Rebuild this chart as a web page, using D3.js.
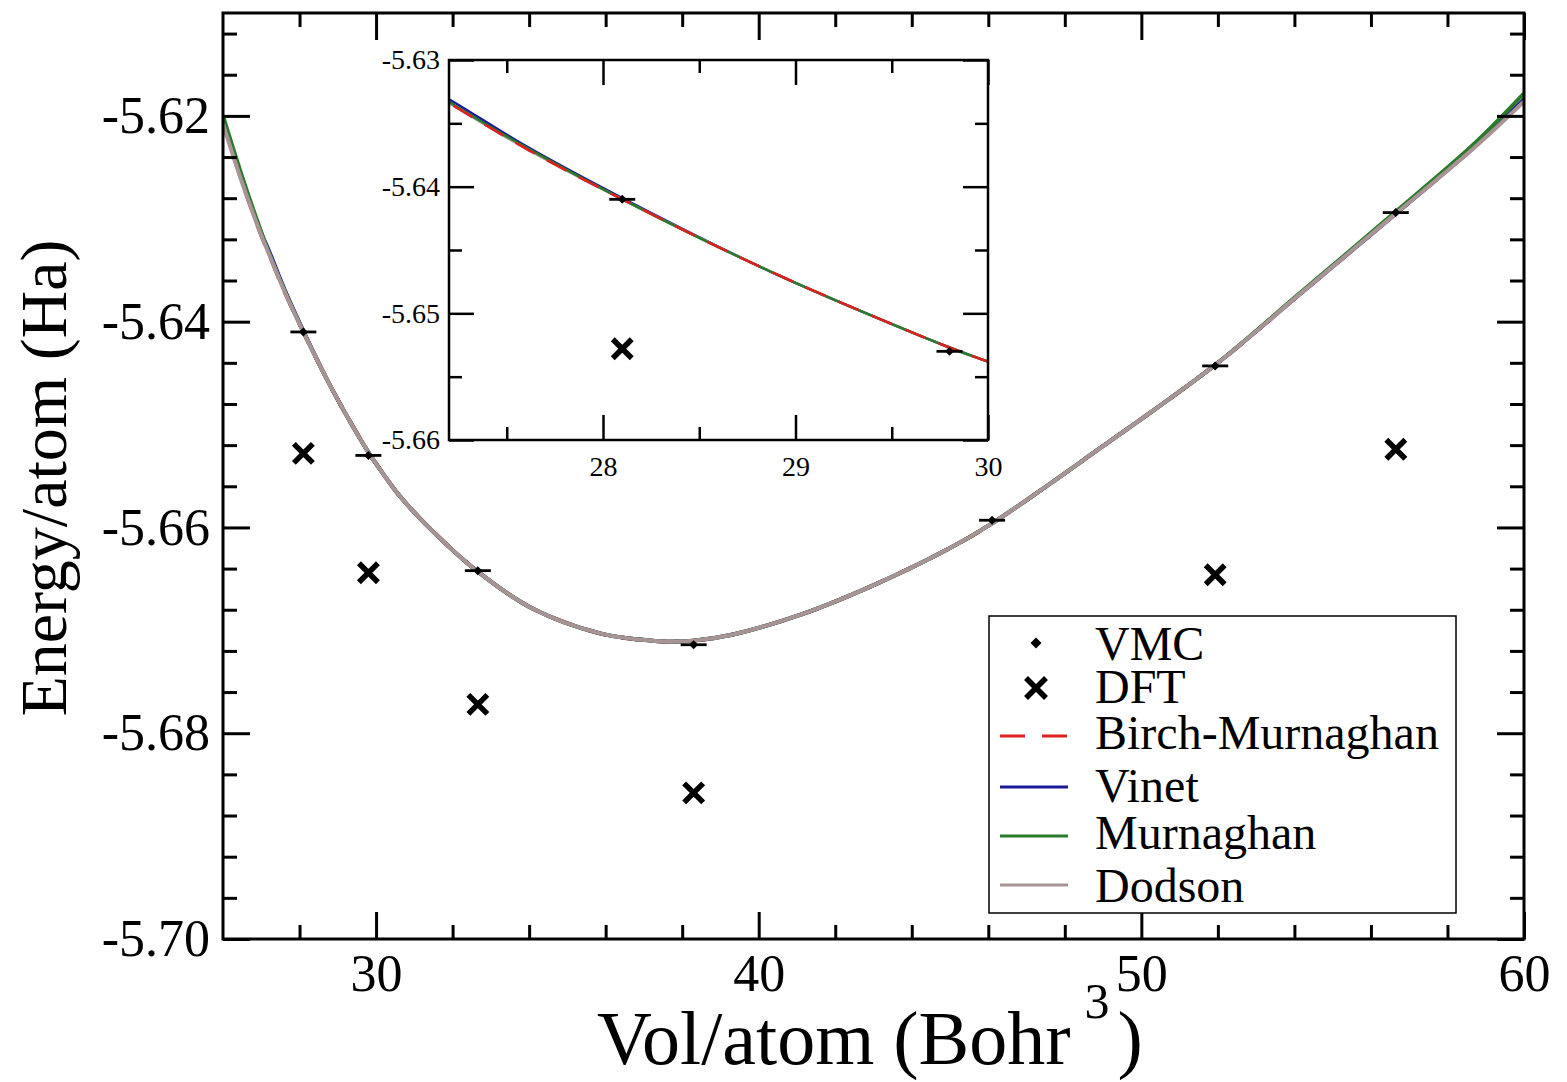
<!DOCTYPE html>
<html>
<head>
<meta charset="utf-8">
<script src="https://cdn.jsdelivr.net/npm/d3@7"></script>
<style>
  html, body { margin: 0; padding: 0; background: #fff; }
  svg { display: block; }
  text { font-family: 'Liberation Serif', 'Times New Roman', serif; fill: #000; }
</style>
</head>
<body>
<svg id="chart" width="1567" height="1082"></svg>
<script>
// ---------------- DATA ----------------
const vmcVol    = [28.1, 29.8, 32.66, 38.3, 46.1, 51.93, 56.65];
const vmcEnergy = [-5.6410, -5.6530, -5.6642, -5.6714, -5.6593, -5.6443, -5.6294];

const dftVol    = [28.1, 29.8, 32.66, 38.3, 51.93, 56.65];
const dftEnergy = [-5.6528, -5.6644, -5.6772, -5.6858, -5.6646, -5.6524];

const fitVol = [26, 26.5, 27, 27.2, 27.6, 28.1, 28.87, 29.8, 30, 30.63, 31.49, 32.66, 34.1, 35.85,
                36.9, 37.6, 38.3, 39.33, 41.08, 42.83, 45, 46.1, 48.92, 51.93, 54.15, 56.65, 58.67, 60];
const birchMurnaghan = [-5.6206, -5.6264, -5.6316, -5.6334, -5.6370, -5.6410, -5.6467, -5.6527, -5.6538, -5.6570,
                -5.6604, -5.6643, -5.6679, -5.6703, -5.6709, -5.6711, -5.6710, -5.6704, -5.6685, -5.6659,
                -5.6620, -5.6596, -5.6523, -5.6442, -5.6373, -5.6295, -5.6231, -5.6183];
const vinet = [-5.6204, -5.6262, -5.6314, -5.6331, -5.6368, -5.6409, -5.6467, -5.6527, -5.6538, -5.6570,
                -5.6604, -5.6643, -5.6679, -5.6703, -5.6709, -5.6711, -5.6710, -5.6704, -5.6685, -5.6659,
                -5.6620, -5.6596, -5.6523, -5.6442, -5.6373, -5.6295, -5.6231, -5.6184];
const murnaghan = [-5.6200, -5.6259, -5.6313, -5.6333, -5.6369, -5.6410, -5.6467, -5.6527, -5.6538, -5.6570,
                -5.6604, -5.6643, -5.6679, -5.6703, -5.6709, -5.6711, -5.6710, -5.6704, -5.6685, -5.6659,
                -5.6620, -5.6596, -5.6523, -5.6442, -5.6372, -5.6293, -5.6228, -5.6178];
const dodson = [-5.6208, -5.6265, -5.6316, -5.6334, -5.6370, -5.6410, -5.6467, -5.6527, -5.6538, -5.6570,
                -5.6604, -5.6643, -5.6679, -5.6703, -5.6709, -5.6711, -5.6710, -5.6704, -5.6685, -5.6659,
                -5.6620, -5.6596, -5.6523, -5.6442, -5.6373, -5.6295, -5.6232, -5.6186];

const fitNames  = ["Birch-Murnaghan", "Vinet", "Murnaghan", "Dodson"];
const fitSeries = [birchMurnaghan, vinet, murnaghan, dodson];
const fitColors = ["#e0201c", "#1a1a9a", "#2a7a2a", "#a89494"];
const fitDash   = ["22,14", null, null, null];

const mainXTicks = [30, 40, 50, 60];
const mainYTicks = [-5.70, -5.68, -5.66, -5.64, -5.62];
const insetXTicks = [28, 29, 30];
const insetYTicks = [-5.66, -5.65, -5.64, -5.63];

// ---------------- SETUP ----------------
const svg = d3.select("#chart");
svg.append("rect").attr("width", 1567).attr("height", 1082).attr("fill", "#fff");

const M = {l: 223, r: 1524, t: 13, b: 939};
const x = d3.scaleLinear().domain([26, 60]).range([M.l, M.r]);
const y = d3.scaleLinear().domain([-5.70, -5.61]).range([M.b, M.t]);

const I = {l: 449, r: 988, t: 60, b: 440};
const xi = d3.scaleLinear().domain([27.2, 30]).range([I.l, I.r]);
const yi = d3.scaleLinear().domain([-5.66, -5.63]).range([I.b, I.t]);

const defs = svg.append("defs");
defs.append("clipPath").attr("id", "clipMain").append("rect")
  .attr("x", M.l).attr("y", M.t).attr("width", M.r - M.l).attr("height", M.b - M.t);
defs.append("clipPath").attr("id", "clipInset").append("rect")
  .attr("x", I.l).attr("y", I.t).attr("width", I.r - I.l).attr("height", I.b - I.t);

const fmt2 = d => d.toFixed(2);

function drawAxes(g, xs, ys, box, opt) {
  const xMinor = opt.xMinor.filter(v => !opt.xTicks.includes(v));
  const yMinor = opt.yMinor.filter(v => !opt.yTicks.some(t => Math.abs(t - v) < 1e-9));
  const style = sel => {
    sel.select(".domain").remove();
    sel.selectAll("line").attr("stroke", "#000").attr("stroke-width", opt.sw);
    sel.selectAll("text").style("font-size", opt.fs + "px").attr("fill", "#000")
       .style("font-family", "'Liberation Serif','Times New Roman',serif");
  };
  g.append("g").attr("transform", `translate(0,${box.b})`)
    .call(d3.axisBottom(xs).tickValues(opt.xTicks).tickSizeInner(-opt.maj).tickSizeOuter(0)
      .tickPadding(opt.xPad).tickFormat(d3.format("d"))).call(style);
  g.append("g").attr("transform", `translate(0,${box.b})`)
    .call(d3.axisBottom(xs).tickValues(xMinor).tickSizeInner(-opt.min).tickSizeOuter(0).tickFormat("")).call(style);
  g.append("g").attr("transform", `translate(0,${box.t})`)
    .call(d3.axisTop(xs).tickValues(opt.xTicks).tickSizeInner(-opt.maj).tickSizeOuter(0).tickFormat("")).call(style);
  g.append("g").attr("transform", `translate(0,${box.t})`)
    .call(d3.axisTop(xs).tickValues(xMinor).tickSizeInner(-opt.min).tickSizeOuter(0).tickFormat("")).call(style);
  g.append("g").attr("transform", `translate(${box.l},0)`)
    .call(d3.axisLeft(ys).tickValues(opt.yTicks).tickSizeInner(-opt.maj).tickSizeOuter(0)
      .tickPadding(opt.yPad).tickFormat(fmt2)).call(style);
  g.append("g").attr("transform", `translate(${box.l},0)`)
    .call(d3.axisLeft(ys).tickValues(yMinor).tickSizeInner(-opt.min).tickSizeOuter(0).tickFormat("")).call(style);
  g.append("g").attr("transform", `translate(${box.r},0)`)
    .call(d3.axisRight(ys).tickValues(opt.yTicks).tickSizeInner(-opt.maj).tickSizeOuter(0).tickFormat("")).call(style);
  g.append("g").attr("transform", `translate(${box.r},0)`)
    .call(d3.axisRight(ys).tickValues(yMinor).tickSizeInner(-opt.min).tickSizeOuter(0).tickFormat("")).call(style);
  g.append("rect").attr("x", box.l).attr("y", box.t).attr("width", box.r - box.l).attr("height", box.b - box.t)
    .attr("fill", "none").attr("stroke", "#000").attr("stroke-width", opt.frame);
}

function crossPath(cx, cy, s) {
  return `M${cx - s},${cy - s}L${cx + s},${cy + s}M${cx - s},${cy + s}L${cx + s},${cy - s}`;
}
function diamondPath(cx, cy, s) {
  return `M${cx},${cy - s}L${cx + s},${cy}L${cx},${cy + s}L${cx - s},${cy}Z`;
}

function drawData(g, xs, ys, clipId, order, lw) {
  const plot = g.append("g").attr("clip-path", `url(#${clipId})`);
  order.forEach(k => {
    const line = d3.line().x((d, i) => xs(fitVol[i])).y(d => ys(d)).curve(d3.curveCatmullRom.alpha(0.5));
    plot.append("path").datum(fitSeries[k]).attr("d", line)
      .attr("fill", "none").attr("stroke", fitColors[k]).attr("stroke-width", lw)
      .attr("stroke-dasharray", fitDash[k]);
  });
  vmcVol.forEach((v, i) => {
    const cx = xs(v), cy = ys(vmcEnergy[i]);
    plot.append("line").attr("x1", cx - 13).attr("x2", cx + 13).attr("y1", cy).attr("y2", cy)
      .attr("stroke", "#000").attr("stroke-width", 2.8);
    plot.append("path").attr("d", diamondPath(cx, cy, 4.5)).attr("fill", "#000");
  });
  dftVol.forEach((v, i) => {
    const cx = xs(v), cy = ys(dftEnergy[i]);
    plot.append("path").attr("d", crossPath(cx, cy, 9.5)).attr("stroke", "#000")
      .attr("stroke-width", 5.5).attr("fill", "none");
  });
}

// ---------------- MAIN PLOT ----------------
const gMain = svg.append("g");
drawData(gMain, x, y, "clipMain", [0, 1, 2, 3], 4);
drawAxes(gMain, x, y, M, {
  xTicks: mainXTicks, yTicks: mainYTicks,
  xMinor: d3.range(28, 60, 2), yMinor: d3.range(-5.70, -5.6099, 0.004).map(v => +v.toFixed(3)),
  maj: 27, min: 14, sw: 3, frame: 3, fs: 52, xPad: 15, yPad: 13
});

// axis titles
svg.append("text").attr("transform", "translate(66,478) rotate(-90)")
  .attr("text-anchor", "middle").style("font-size", "66px").text("Energy/atom (Ha)");
const xt = svg.append("text").attr("x", 597).attr("y", 1064).style("font-size", "76px");
xt.append("tspan").text("Vol/atom (Bohr");
xt.append("tspan").attr("dy", -46).attr("dx", 14).style("font-size", "50px").text("3");
xt.append("tspan").attr("dy", 46).attr("dx", 8).text(")");

// ---------------- INSET ----------------
const gInset = svg.append("g");
gInset.append("rect").attr("x", I.l).attr("y", I.t).attr("width", I.r - I.l).attr("height", I.b - I.t).attr("fill", "#fff");
drawData(gInset, xi, yi, "clipInset", [1, 3, 2, 0], 2.5);
drawAxes(gInset, xi, yi, I, {
  xTicks: insetXTicks, yTicks: insetYTicks,
  xMinor: [27.5, 28.5, 29.5], yMinor: [-5.655, -5.645, -5.635],
  maj: 25, min: 13, sw: 2.5, frame: 2.5, fs: 28, xPad: 16, yPad: 9
});

// ---------------- LEGEND ----------------
const lg = svg.append("g");
lg.append("rect").attr("x", 989).attr("y", 616).attr("width", 467).attr("height", 297)
  .attr("fill", "#fff").attr("stroke", "#000").attr("stroke-width", 1.5);
const legendItems = [
  {name: "VMC", kind: "vmc", ty: 660, my: 643},
  {name: "DFT", kind: "dft", ty: 703, my: 688},
  {name: fitNames[0], kind: 0, ty: 749, my: 736},
  {name: fitNames[1], kind: 1, ty: 802, my: 787},
  {name: fitNames[2], kind: 2, ty: 849, my: 836},
  {name: fitNames[3], kind: 3, ty: 902, my: 885}
];
legendItems.forEach(it => {
  if (it.kind === "vmc") {
    lg.append("path").attr("d", diamondPath(1036, it.my, 5.5)).attr("fill", "#000");
  } else if (it.kind === "dft") {
    lg.append("path").attr("d", crossPath(1036, it.my, 10)).attr("stroke", "#000")
      .attr("stroke-width", 5.5).attr("fill", "none");
  } else {
    lg.append("line").attr("x1", 1000).attr("x2", 1068).attr("y1", it.my).attr("y2", it.my)
      .attr("stroke", fitColors[it.kind]).attr("stroke-width", 3)
      .attr("stroke-dasharray", it.kind === 0 ? "25,17" : null);
  }
  lg.append("text").attr("x", 1095).attr("y", it.ty).style("font-size", "48px").text(it.name);
});
</script>
</body>
</html>
